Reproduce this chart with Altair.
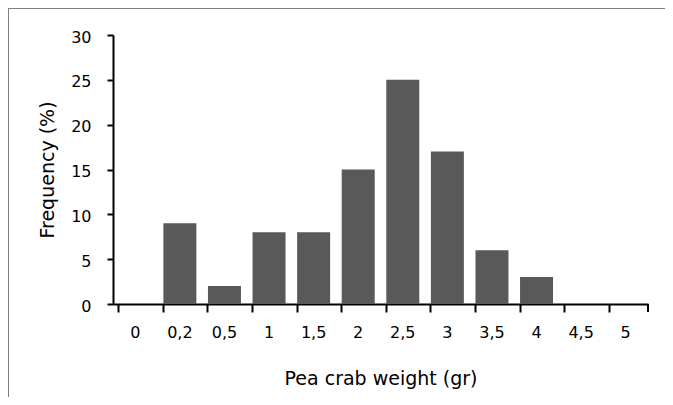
import altair as alt
import pandas as pd

categories = ["0", "0,2", "0,5", "1", "1,5", "2", "2,5", "3", "3,5", "4", "4,5", "5"]
frequency = [0, 9, 2, 8, 8, 15, 25, 17, 6, 3, 0, 0]

df = pd.DataFrame({"weight": categories, "freq": frequency})

W, H = 535, 269
FONT = "DejaVu Sans"

bars = alt.Chart(df).mark_bar(color="#595959").encode(
    x=alt.X(
        "weight:N",
        sort=categories,
        scale=alt.Scale(paddingInner=0.26, paddingOuter=0.13),
        axis=alt.Axis(
            title="Pea crab weight (gr)",
            labelAngle=0,
            bandPosition=0,
            tickSize=8,
            tickWidth=2,
            domainWidth=2,
            labelPadding=12,
            titlePadding=29,
        ),
    ),
    y=alt.Y(
        "freq:Q",
        scale=alt.Scale(domain=[0, 30]),
        axis=alt.Axis(
            title="Frequency (%)",
            values=[0, 5, 10, 15, 20, 25, 30],
            tickSize=6,
            tickWidth=2,
            domainWidth=2,
            labelPadding=16,
            labelOffset=2,
            titlePadding=13,
            grid=False,
        ),
    ),
)

# closing tick at the right end of the category axis
end_tick = alt.Chart(df).mark_rule(color="black", strokeWidth=2).encode(
    x=alt.value(W), y=alt.value(H), y2=alt.value(H + 8)
)

# thin frame around the chart (top and left edges)
frame_top = alt.Chart(df).mark_rule(color="#7f7f7f", strokeWidth=1).encode(
    x=alt.value(-104.5), x2=alt.value(W + 40), y=alt.value(-26.5)
)
frame_left = alt.Chart(df).mark_rule(color="#7f7f7f", strokeWidth=1).encode(
    x=alt.value(-104.5), y=alt.value(-26.5), y2=alt.value(H + 120)
)

chart = (
    alt.layer(bars, end_tick, frame_top, frame_left)
    .properties(
        width=W,
        height=H,
        autosize=alt.AutoSizeParams(type="none"),
        padding={"left": 105, "top": 27, "right": 17, "bottom": 93},
    )
    .configure_view(stroke=None)
    .configure_axis(
        labelFont=FONT,
        titleFont=FONT,
        labelFontSize=16,
        titleFontSize=19,
        titleFontWeight="normal",
        labelColor="black",
        titleColor="black",
        domainColor="black",
        tickColor="black",
    )
)

chart.save("out.html", embed_options={"renderer": "svg", "actions": False})
